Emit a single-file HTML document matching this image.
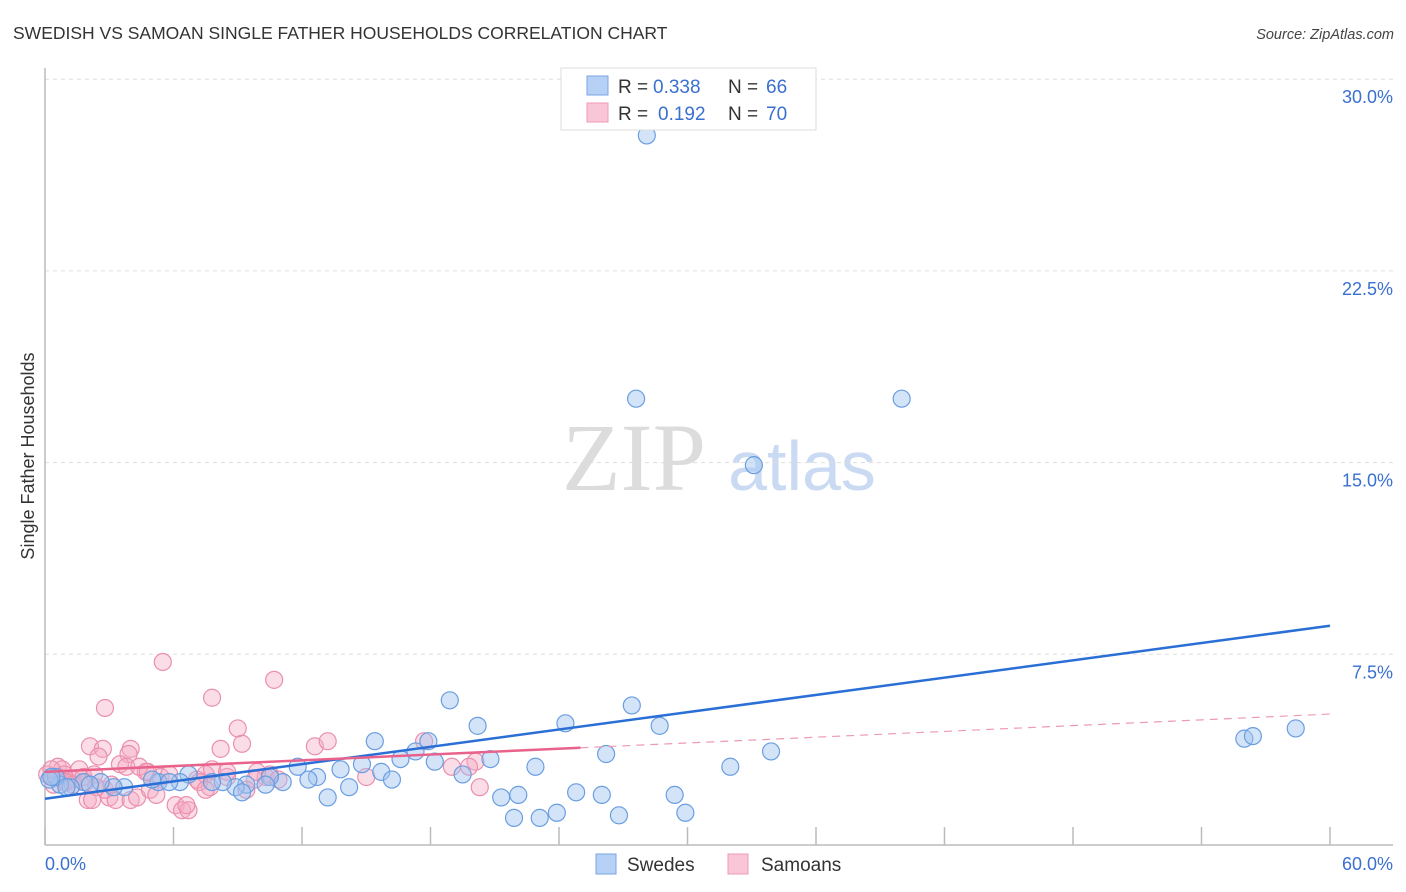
<!DOCTYPE html>
<html><head><meta charset="utf-8"><style>
body{margin:0;background:#fff;font-family:"Liberation Sans",sans-serif;}
#wrap{position:relative;width:1406px;height:892px;overflow:hidden;}
</style></head><body>
<div id="wrap">
<svg id="svg" width="1406" height="892" xmlns="http://www.w3.org/2000/svg">
<text x="13" y="39" font-size="17.5" fill="#333">SWEDISH VS SAMOAN SINGLE FATHER HOUSEHOLDS CORRELATION CHART</text>
<text x="1394" y="39" font-size="14.5" fill="#444" font-style="italic" text-anchor="end">Source: ZipAtlas.com</text>
<text transform="translate(34,456) rotate(-90)" font-size="18" fill="#333" text-anchor="middle">Single Father Households</text>
<text x="634" y="490" font-size="96" fill="#dcdcdc" text-anchor="middle" font-family="Liberation Serif,serif">ZIP</text>
<text x="802" y="490" font-size="70" fill="#c9daf2" text-anchor="middle">atlas</text>
<g id="grid"></g><g id="marks"></g>
<g>
<rect x="561" y="68" width="255" height="62" fill="#fff" stroke="#ddd"/>
<rect x="587" y="76" width="21" height="19" fill="#b7d0f5" stroke="#7aa6e6"/>
<text x="618" y="93" font-size="19" fill="#333">R = </text><text x="653" y="93" font-size="19" fill="#3a70d0">0.338</text>
<text x="728" y="93" font-size="19" fill="#333">N = </text><text x="766" y="93" font-size="19" fill="#3a70d0">66</text>
<rect x="587" y="103" width="21" height="19" fill="#f8c6d6" stroke="#ee9ab5"/>
<text x="618" y="120" font-size="19" fill="#333">R = </text><text x="658" y="120" font-size="19" fill="#3a70d0">0.192</text>
<text x="728" y="120" font-size="19" fill="#333">N = </text><text x="766" y="120" font-size="19" fill="#3a70d0">70</text>
</g>
<g>
<rect x="596" y="854" width="20" height="20" fill="#b7d0f5" stroke="#7aa6e6"/>
<text x="627" y="871" font-size="19" fill="#333">Swedes</text>
<rect x="728" y="854" width="20" height="20" fill="#f8c6d6" stroke="#ee9ab5"/>
<text x="761" y="871" font-size="19" fill="#333">Samoans</text>
</g>
</svg>
</div>
<script>
const yTicks=[7.5,15,22.5,30];
const yTickLabels=["7.5%","15.0%","22.5%","30.0%"];
const xTickVals=[0,6,12,18,24,30,36,42,48,54,60];
const sweX=[28.1,27.6,40.0,33.1,18.9,20.2,27.4,24.3,28.7,56.0,56.4,58.4,33.9,32.0,26.2,22.9,20.8,17.3,17.9,15.4,19.5,18.2,16.6,15.7,14.8,13.8,12.7,11.8,12.3,11.1,10.5,10.3,9.4,8.9,8.3,7.8,6.7,6.3,5.3,5.0,3.7,3.2,2.6,1.8,1.2,0.7,0.5,0.2,23.1,21.9,23.9,21.3,22.1,24.8,26.0,26.8,29.4,29.9,16.2,14.2,13.2,9.2,5.8,2.1,1.0,0.3];
const sweY=[27.8,17.5,17.5,14.9,5.7,4.7,5.5,4.8,4.7,4.2,4.3,4.6,3.7,3.1,3.6,3.1,3.4,3.7,4.1,4.1,2.8,3.3,3.4,2.9,3.2,3.0,2.7,3.1,2.6,2.5,2.7,2.4,2.4,2.3,2.5,2.5,2.8,2.5,2.5,2.6,2.3,2.3,2.5,2.5,2.3,2.4,2.7,2.6,1.1,1.1,1.3,1.9,2.0,2.1,2.0,1.2,2.0,1.3,2.6,2.3,1.9,2.1,2.5,2.4,2.3,2.7];
const samX=[5.5,7.8,10.7,2.8,9.0,9.2,8.2,2.1,2.7,4.0,3.9,2.5,0.6,0.8,0.9,1.3,1.6,1.9,3.5,3.8,4.7,5.4,5.8,7.1,7.5,7.8,8.5,10.3,10.5,10.9,12.6,13.2,15.0,17.7,19.0,20.1,19.8,20.3,3.0,3.3,4.0,4.3,4.9,5.2,6.1,6.4,6.7,6.6,7.7,2.8,2.4,2.0,2.2,3.1,0.9,0.4,0.1,0.3,0.6,1.0,1.3,1.8,2.3,4.4,4.8,7.2,9.8,9.9,7.5,9.4,8.5];
const samY=[7.2,5.8,6.5,5.4,4.6,4.0,3.8,3.9,3.8,3.8,3.6,3.5,3.1,3.0,2.8,2.6,3.0,2.5,3.2,3.1,2.9,2.7,2.8,2.6,2.8,3.0,2.7,2.7,2.8,2.6,3.9,4.1,2.7,4.1,3.1,3.3,3.1,2.3,1.9,1.8,1.8,1.9,2.2,2.0,1.6,1.4,1.4,1.6,2.3,2.2,2.3,1.8,1.8,2.4,2.5,2.4,2.8,3.0,2.7,2.5,2.4,2.7,2.8,3.1,2.9,2.5,2.6,2.9,2.2,2.2,2.9];
const sweTrend=[1.85,0.1128];
const samTrend=[2.90,0.0377];
const samSolidEnd=25.0;

const X0=45,X1=1330,Y0=846,PY=25.56;
const sx=v=>X0+(X1-X0)*v/60;
const sy=v=>Y0-v*PY;
const NS="http://www.w3.org/2000/svg";
function mk(tag,attrs,parent){const e=document.createElementNS(NS,tag);for(const k in attrs)e.setAttribute(k,attrs[k]);parent.appendChild(e);return e;}
const grid=document.getElementById('grid'),marks=document.getElementById('marks');
yTicks.forEach((t,i)=>{
 const l=mk('line',{x1:45,x2:1393,y1:sy(t),y2:sy(t),stroke:'#ddd','stroke-dasharray':'4,4'},grid);
 
 
 const tx=mk('text',{x:1393,y:sy(t)+24,'font-size':18,fill:'#3a70d0','text-anchor':'end'},grid);
 tx.textContent=yTickLabels[i];
 
 
});
const ax=mk('line',{x1:45,x2:45,y1:68,y2:845,stroke:'#bbb','stroke-width':1.5},grid);


const bx=mk('line',{x1:45,x2:1393,y1:845,y2:845,stroke:'#bbb','stroke-width':1.5},grid);


xTickVals.forEach(t=>{
 const l=mk('line',{x1:sx(t),x2:sx(t),y1:827,y2:845,stroke:'#bbb','stroke-width':1.5},grid);
 
 
});
const xl=mk('text',{x:45,y:870,'font-size':18,fill:'#3a70d0'},grid);xl.textContent='0.0%';


const xr=mk('text',{x:1393,y:870,'font-size':18,fill:'#3a70d0','text-anchor':'end'},grid);xr.textContent='60.0%';



samX.forEach((v,i)=>{
 const c=mk('circle',{cx:sx(v),cy:sy(samY[i]),r:8.5,fill:'rgba(246,170,196,0.4)',stroke:'#ea8fad','stroke-width':1.2},marks);
 
 
});
sweX.forEach((v,i)=>{
 const c=mk('circle',{cx:sx(v),cy:sy(sweY[i]),r:8.5,fill:'rgba(160,196,240,0.45)',stroke:'#6a9ee0','stroke-width':1.2},marks);
 
 
});
const sw=mk('line',{x1:sx(0),y1:sy(sweTrend[0]),x2:sx(60),y2:sy(sweTrend[0]+sweTrend[1]*60),stroke:'#2a6fd6','stroke-width':2.5},marks);


const ps=mk('line',{x1:sx(0),y1:sy(samTrend[0]),x2:sx(samSolidEnd),y2:sy(samTrend[0]+samTrend[1]*samSolidEnd),stroke:'#e8628c','stroke-width':2.5},marks);


const pd=mk('line',{x1:sx(samSolidEnd),y1:sy(samTrend[0]+samTrend[1]*samSolidEnd),x2:sx(60),y2:sy(samTrend[0]+samTrend[1]*60),stroke:'#ee9ab5','stroke-width':1.2,'stroke-dasharray':'8,6'},marks);


</script>
</body></html>
